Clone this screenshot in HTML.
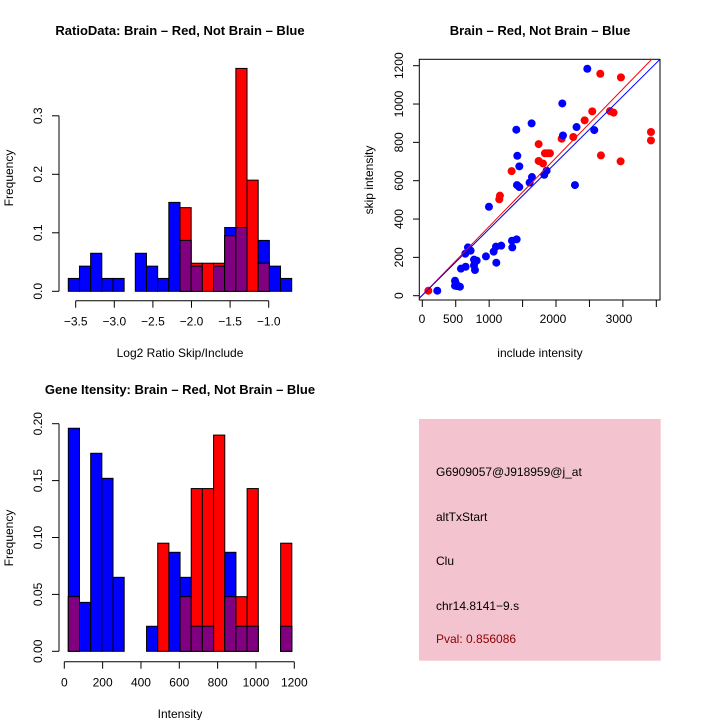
<!DOCTYPE html>
<html><head><meta charset="utf-8"><style>
body{margin:0;background:#fff}
svg{display:block;font-family:"Liberation Sans",sans-serif}
</style></head><body>
<svg id="s" width="720" height="720" xmlns="http://www.w3.org/2000/svg">
</svg>
<script>
// ---- Ratio histogram data ----
const ratioStart = -3.596, ratioWidth = 0.1447;
const ratioBlue = [0.022,0.043,0.065,0.022,0.022,0,0.065,0.043,0.022,0.152,0.087,0.043,0,0.043,0.109,0.109,0,0.087,0.043,0.022];
const ratioRed  = [0,0,0,0,0,0,0,0,0,0,0.143,0.048,0.048,0.048,0.095,0.381,0.190,0.048,0,0];
const ratioXTicks = [-3.5,-3.0,-2.5,-2.0,-1.5,-1.0];
const ratioXLabels = ["\u22123.5","\u22123.0","\u22122.5","\u22122.0","\u22121.5","\u22121.0"];
const ratioYTicks = [0,0.1,0.2,0.3];
const ratioYLabels = ["0.0","0.1","0.2","0.3"];
// ---- Intensity histogram data ----
const intStart = 21, intWidth = 58.3;
const intBlue = [0.196,0.043,0.174,0.152,0.065,0,0,0.022,0,0.087,0.065,0.022,0.022,0,0.087,0.022,0.022,0,0,0.022];
const intRed  = [0.048,0,0,0,0,0,0,0,0.095,0,0.048,0.143,0.143,0.190,0.048,0.048,0.143,0,0,0.095];
const intXTicks = [0,200,400,600,800,1000,1200];
const intYTicks = [0,0.05,0.10,0.15,0.20];
const intYLabels = ["0.00","0.05","0.10","0.15","0.20"];
// ---- Scatter data ----
const redX = [90,1151,1161,1336,1740,1740,1805,1834,1874,1909,2084,2258,2428,2542,2662,2807,2861,2672,2966,2971,3420,3420];
const redY = [26,503,522,650,791,703,690,743,743,743,819,828,915,962,1158,963,955,732,701,1139,854,810];
const blueX = [224,489,503,523,563,489,578,648,643,683,723,773,813,773,788,952,997,1067,1102,1107,1181,1346,1341,1411,1406,1421,1451,1416,1451,1605,1640,1635,1824,1859,2094,2104,2283,2307,2468,2572];
const blueY = [26,78,64,50,47,52,141,151,219,252,235,188,183,158,134,205,464,230,256,172,261,252,287,294,866,730,675,577,567,590,619,899,631,652,1003,836,577,880,1184,864];
const scXTicks = [0,500,1000,1500,2000,2500,3000,3500];
const scXLabels = ["0","500","1000","","2000","","3000",""];
const scYTicks = [0,200,400,600,800,1000,1200];
const fitBlue = [2.0,0.3463];
const fitRed = [2.5,0.3587];

const S=document.getElementById('s'), NS='http://www.w3.org/2000/svg';
function mk(t,a,txt){const e=document.createElementNS(NS,t);for(const k in a)e.setAttribute(k,a[k]);if(txt!==undefined)e.textContent=txt;S.appendChild(e);return e;}
function text(x,y,s,name,opt){opt=opt||{};const a={x:x,y:y,'font-size':opt.size||12,'text-anchor':opt.anchor||'middle',fill:opt.fill||'#000'};
 if(opt.bold)a['font-weight']='bold';if(opt.rot)a.transform='rotate(-90 '+x+' '+y+')';
 const e=mk('text',a,s);
 
 
 return e;}
function line(x1,y1,x2,y2,name,col,w){const e=mk('line',{x1:x1,y1:y1,x2:x2,y2:y2,stroke:col||'#000','stroke-width':w||1});
 
 
 return e;}
function rect(x,y,w,h,fill,name){const e=mk('rect',{x:x,y:y,width:w,height:h,fill:fill,stroke:'#000','stroke-width':1});
 
 
 return e;}

function hist(p){
 const X=v=>p.x0+(v-p.xv0)*p.xs, Y=v=>p.y0-v*p.ys;
 for(let i=0;i<p.blue.length;i++){
  const a=p.start+i*p.w,b=a+p.w,x=X(a),wd=X(b)-X(a);
  const bl=p.blue[i],rd=p.red[i],mn=Math.min(bl,rd);
  if(bl>0){rect(x,Y(bl),wd,Y(0)-Y(bl),'#0000ff',p.id+'-blue-bar-'+i);}
  if(rd>0){rect(x,Y(rd),wd,Y(0)-Y(rd),'#ff0000',p.id+'-red-bar-'+i);}
  if(mn>0){rect(x,Y(mn),wd,Y(0)-Y(mn),'#800080',p.id+'-overlap-bar-'+i);}
 }
 const xt=p.xticks;
 line(X(xt[0]),p.axY,X(xt[xt.length-1]),p.axY,p.id+'-x-axis-line');
 xt.forEach((t,i)=>{line(X(t),p.axY,X(t),p.axY+7,p.id+'-x-tick');text(X(t),p.axY+25,p.xlabels[i],p.id+'-x-tick-label');});
 const yt=p.yticks;
 line(59,Y(yt[0]),59,Y(yt[yt.length-1]),p.id+'-y-axis-line');
 yt.forEach((t,i)=>{line(52,Y(t),59,Y(t),p.id+'-y-tick');text(42,Y(t),p.ylabels[i],p.id+'-y-tick-label',{rot:1});});
}
text(180,35,'RatioData: Brain \u2013 Red, Not Brain \u2013 Blue','ratio-title',{bold:1,size:13});
hist({id:'ratio',start:ratioStart,w:ratioWidth,blue:ratioBlue,red:ratioRed,x0:75.7,xv0:-3.5,xs:77.2,y0:291.3,ys:585,
 xticks:ratioXTicks,xlabels:ratioXLabels,yticks:ratioYTicks,ylabels:ratioYLabels,axY:300.7});
text(180,357,'Log2 Ratio Skip/Include','ratio-x-axis-title');
text(13,178,'Frequency','ratio-y-axis-title',{rot:1});

text(180,394,'Gene Itensity: Brain \u2013 Red, Not Brain \u2013 Blue','intensity-title',{bold:1,size:13});
hist({id:'intensity',start:intStart,w:intWidth,blue:intBlue,red:intRed,x0:64.3,xv0:0,xs:230/1200,y0:651.3,ys:1138,
 xticks:intXTicks,xlabels:intXTicks.map(String),yticks:intYTicks,ylabels:intYLabels,axY:661.7});
text(180,718,'Intensity','intensity-x-axis-title');
text(13,538,'Frequency','intensity-y-axis-title',{rot:1});

text(540,35,'Brain \u2013 Red, Not Brain \u2013 Blue','scatter-title',{bold:1,size:13});
const SX=v=>422.3+v*0.06686, SY=v=>295.7-v*0.19167;
const box=mk('rect',{x:419.3,y:59.3,width:240.7,height:240.7,fill:'none',stroke:'#000'});


scXTicks.forEach((t,i)=>{line(SX(t),300,SX(t),307,'scatter-x-tick');});
const lblX=[422,453,489,0,553,0,619,0];
scXLabels.forEach((l,i)=>{if(l)text(lblX[i],323,l,'scatter-x-tick-label');});
scYTicks.forEach(t=>{line(413,SY(t),419.3,SY(t),'scatter-y-tick');text(403,SY(t),String(t),'scatter-y-tick-label',{rot:1});});
text(540,357,'include intensity','scatter-x-axis-title');
text(373,180,'skip intensity','scatter-y-axis-title',{rot:1});
const clip=mk('clipPath',{id:'cp'});const cr=document.createElementNS(NS,'rect');
cr.setAttribute('x',419.3);cr.setAttribute('y',59.3);cr.setAttribute('width',240.7);cr.setAttribute('height',240.7);clip.appendChild(cr);
function fit(f,col,name){const xa=-45,xb=3560;const e=mk('line',{x1:SX(xa),y1:SY(f[0]+f[1]*xa),x2:SX(xb),y2:SY(f[0]+f[1]*xb),stroke:col,'stroke-width':1,'clip-path':'url(#cp)'});
 
 }
function pts(xs,ys,col,name){for(let i=0;i<xs.length;i++){const c=mk('circle',{cx:SX(xs[i]),cy:SY(ys[i]),r:4,fill:col});
 
 }}
pts(redX,redY,'#ff0000','brain-point');
pts(blueX,blueY,'#0000ff','not-brain-point');
fit(fitRed,'#ff0000','brain-fit-line');
fit(fitBlue,'#0000ff','not-brain-fit-line');

const ib=mk('rect',{x:419,y:419,width:241.7,height:241.7,fill:'#f3c3cf'});


const info=[['G6909057@J918959@j_at',476,'#000','probe-id-text'],['altTxStart',521,'#000','event-type-text'],['Clu',565,'#000','gene-name-text'],['chr14.8141\u22129.s',610,'#000','location-text'],['Pval: 0.856086',643,'#8b0000','pvalue-text']];
info.forEach(r=>text(436,r[1],r[0],r[3],{anchor:'start',fill:r[2]}));
</script>
</body></html>
